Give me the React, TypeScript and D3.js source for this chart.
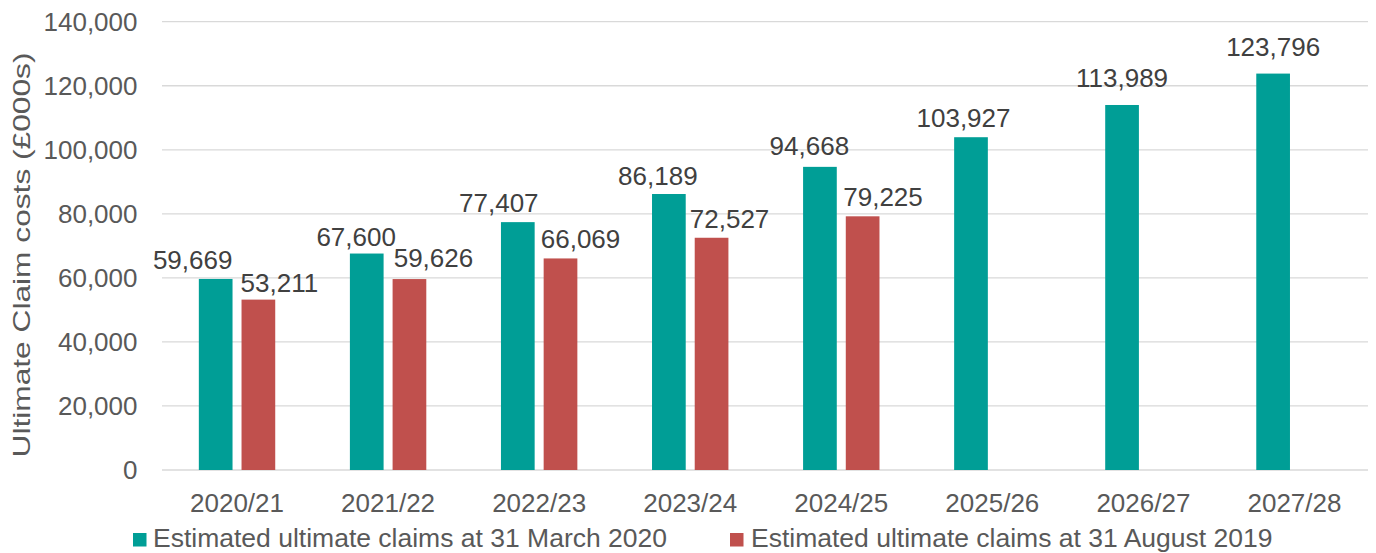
import React from "react";
import * as d3 from "d3";

const categories = ["2020/21", "2021/22", "2022/23", "2023/24", "2024/25", "2025/26", "2026/27", "2027/28"];
const march2020 = [59669, 67600, 77407, 86189, 94668, 103927, 113989, 123796];
const august2019: (number | null)[] = [53211, 59626, 66069, 72527, 79225, null, null, null];
const yTicks = [0, 20000, 40000, 60000, 80000, 100000, 120000, 140000];
const seriesNames = ["Estimated ultimate claims at 31 March 2020", "Estimated ultimate claims at 31 August 2019"];
const yTitle = "Ultimate Claim costs (£000s)";

// layout nudges for data labels (manual placement in the original)
const tealDx = [-23, -10.6, -19, -11, -10.6, -7.5, 0, 0];
const tealDy = [0, 2, 0, 1, -2, 0, -8, -8];
const redDx = [21, 24, 20, 18, 20.4];
const redDy = [2, -2, 0, 0, 0];

const W = 1376;
const H = 553;
const TEAL = "#009E96";
const RED = "#C0504D";
const FONT = "'Liberation Sans', Arial, sans-serif";

export default function App() {
  const x = d3.scaleBand<string>().domain(categories).range([161.5, 1370]).padding(0);
  const y = d3.scaleLinear().domain([0, 140000]).range([470, 21.7]);
  const step = x.bandwidth();
  const barW = 33.7;
  const gap = 9;
  const fmt = d3.format(",");

  return (
    <div style={{ position: "absolute", left: 0, top: 0, width: W, height: H, overflow: "hidden" }}>
      <svg width={W} height={H} style={{ display: "block", fontFamily: FONT }}>
        <rect width={W} height={H} fill="#fff" />
        {yTicks.map((t) => (
          <g key={t}>
            <line x1={162} x2={1368} y1={y(t)} y2={y(t)} stroke="#D9D9D9" strokeWidth={1.3} />
            <text x={137.5} y={y(t) + 9} textAnchor="end" fontSize={26} fill="#595959">
              {fmt(t)}
            </text>
          </g>
        ))}
        <text
          transform={`translate(29.5,255) rotate(-90)`}
          textAnchor="middle"
          fontSize={24}
          fill="#595959"
          textLength={405}
          lengthAdjust="spacingAndGlyphs"
        >
          {yTitle}
        </text>
        {categories.map((c, i) => {
          const cx = (x(c) as number) + step / 2;
          const tl = cx - (barW * 2 + gap) / 2;
          const rl = tl + barW + gap;
          const tv = march2020[i];
          const rv = august2019[i];
          return (
            <g key={c}>
              <rect x={tl} y={y(tv)} width={barW} height={y(0) - y(tv)} fill={TEAL} />
              <text
                x={tl + barW / 2 + tealDx[i]}
                y={y(tv) - 10 + tealDy[i]}
                textAnchor="middle"
                fontSize={26}
                fill="#404040"
              >
                {fmt(tv)}
              </text>
              {rv != null && (
                <>
                  <rect x={rl} y={y(rv)} width={barW} height={y(0) - y(rv)} fill={RED} />
                  <text
                    x={rl + barW / 2 + redDx[i]}
                    y={y(rv) - 10 + redDy[i]}
                    textAnchor="middle"
                    fontSize={26}
                    fill="#404040"
                  >
                    {fmt(rv)}
                  </text>
                </>
              )}
              <text x={cx} y={511.7} textAnchor="middle" fontSize={26} fill="#595959">
                {c}
              </text>
            </g>
          );
        })}
        <rect x={133} y={533} width={13.5} height={13.5} fill={TEAL} />
        <text x={153} y={547.3} fontSize={26.5} fill="#595959">
          {seriesNames[0]}
        </text>
        <rect x={730} y={533} width={13.5} height={13.5} fill={RED} />
        <text x={751} y={547.3} fontSize={26.5} fill="#595959">
          {seriesNames[1]}
        </text>
      </svg>
    </div>
  );
}
